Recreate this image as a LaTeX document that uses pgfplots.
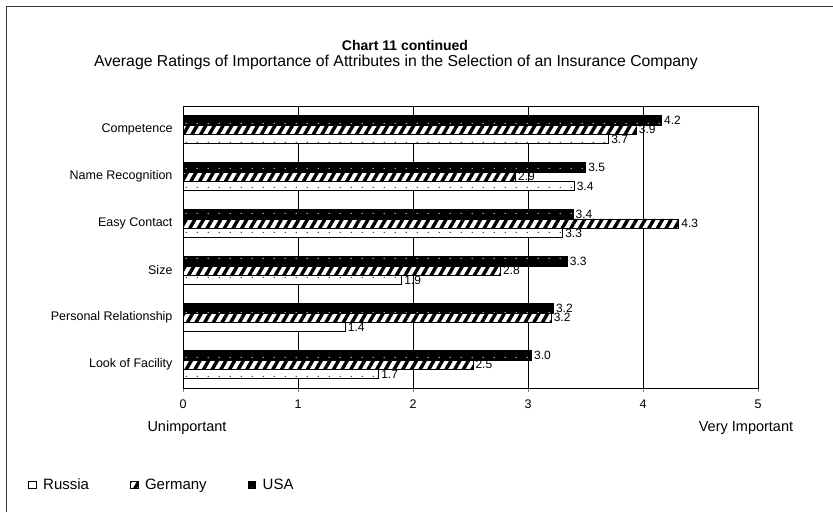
\documentclass[border=0pt]{standalone}
\usepackage{pgfplots}
\pgfplotsset{compat=1.18}
\usetikzlibrary{patterns.meta}
\usepackage{fontspec}
\setmainfont{Liberation Sans}

% one row of small dots per bar (bars are 9.4pt high)
\tikzdeclarepattern{
  name=rowdots,
  type=uncolored,
  bounding box={(0pt,0pt) and (10.7pt,9.4pt)},
  tile size={(10.7pt,9.4pt)},
  code={\pgfpathcircle{\pgfpoint{5.3pt}{5pt}}{0.65pt}\pgfusepath{fill}}
}

\begin{document}
\begin{tikzpicture}
\begin{axis}[
  at={(183pt,124pt)}, anchor=south west,
  scale only axis, width=575pt, height=282pt,
  xbar, bar width=9.4pt,
  xmin=0, xmax=5, xtick={0,1,2,3,4,5},
  ymin=-0.5, ymax=5.5,
  ytick={0,1,2,3,4,5},
  yticklabels={Look of Facility,Personal Relationship,Size,Easy Contact,Name Recognition,Competence},
  xmajorgrids, grid style={black, line width=0.5pt},
  axis line style={black, line width=0.8pt},
  tick align=outside, xtick pos=bottom,
  major tick length=4pt,
  ytick style={draw=none},
  /pgf/number format/assume math mode=true,
  tick label style={font=\fontsize{12.5}{14}\selectfont},
  xticklabel style={yshift=-4pt},
  yticklabel style={xshift=-3pt},
  nodes near coords,
  point meta=x,
  nodes near coords style={font=\fontsize{12}{13}\selectfont, black, inner sep=2.5pt,
    /pgf/number format/.cd, fixed, precision=1, fixed zerofill, assume math mode=true},
  legend columns=3,
  legend style={draw=none, at={(-0.2696,-0.344)}, anchor=west, inner sep=0pt,
    font=\fontsize{15}{17}\selectfont,
    nodes={inner sep=3pt},
    /tikz/every odd column/.append style={column sep=4pt},
    /tikz/every even column/.append style={column sep=38pt}},
  legend image code/.code={\draw[#1] (0pt,-3.5pt) rectangle (7.5pt,3.5pt);},
]
% Russia
\addplot[bar shift=-9.4pt, draw=black, line width=0.5pt, fill=white,
  postaction={pattern=rowdots, pattern color=black}] coordinates {
  (3.70,5) (3.40,4) (3.30,3) (1.90,2) (1.41,1) (1.70,0)
};
% Germany
\addplot[bar shift=0pt, draw=black, line width=0.5pt, fill=white,
  postaction={pattern={Lines[angle=60, distance=7.5pt, line width=3.4pt]}, pattern color=black}] coordinates {
  (3.94,5) (2.89,4) (4.31,3) (2.76,2) (3.20,1) (2.52,0)
};
% USA
\addplot[bar shift=9.4pt, draw=black, line width=0.5pt, fill=black,
  postaction={pattern=rowdots, pattern color=white}] coordinates {
  (4.16,5) (3.50,4) (3.39,3) (3.34,2) (3.22,1) (3.03,0)
};
\legend{Russia, Germany, USA}
\end{axis}
\draw[line width=1pt, black!80] (6pt,0pt) -- (6pt,505pt) -- (833pt,505pt);
\node[font=\bfseries\fontsize{14}{16}\selectfont] at (405pt,467pt) {Chart 11 continued};
\node[font=\fontsize{15.8}{17}\selectfont] at (396pt,450pt) {Average Ratings of Importance of Attributes in the Selection of an Insurance Company};
\node[font=\fontsize{14.5}{16}\selectfont] at (187pt,84pt) {Unimportant};
\node[font=\fontsize{14.5}{16}\selectfont] at (746pt,84pt) {Very Important};
\pgfresetboundingbox
\path[use as bounding box] (0pt,0pt) rectangle (833pt,512pt);
\end{tikzpicture}
\end{document}
